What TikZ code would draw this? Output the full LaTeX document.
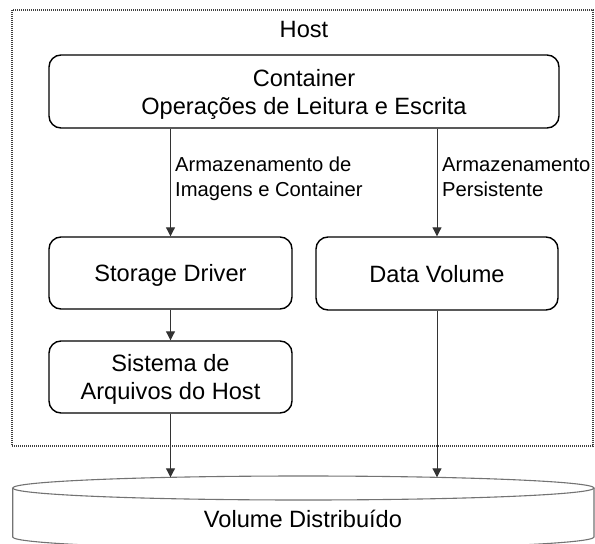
\documentclass[tikz,border=0pt]{standalone}
\usepackage{fontspec}
\setmainfont{Liberation Sans}
\usetikzlibrary{arrows.meta}

\tikzset{
  boxfont/.style={font=\fontsize{23.6pt}{28pt}\selectfont},
  labelfont/.style={font=\fontsize{20.2pt}{25pt}\selectfont},
  procbox/.style={draw=black, line width=1.4pt, rounded corners=12pt,
    inner sep=0pt, align=center, text depth=0pt, boxfont},
  flow/.style={draw=black!80, line width=1pt,
    -{Triangle[width=9pt,length=9pt]}},
  hostframe/.style={draw=black!75, line width=1.3pt,
    dash pattern=on 1pt off 1pt},
  drum/.style={draw=black!55, line width=1.1pt},
  flowlabel/.style={labelfont, align=left, inner sep=0pt, anchor=north west}
}

\begin{document}
\begin{tikzpicture}[x=1pt, y=-1pt]
  \useasboundingbox (0,0) rectangle (595,544);
  \clip (0,0) rectangle (595,544);

  % host boundary
  \draw[hostframe] (12,10) rectangle (593,446);
  \node[boxfont, anchor=base, inner sep=0pt] (host) at (304,37) {Host};

  % processing boxes
  \node[procbox, minimum width=510pt, minimum height=73pt] (cont) at (304,91.5)
    {Container\\Operações de Leitura e Escrita};
  \node[procbox, minimum width=243pt, minimum height=72pt] (sd) at (170.5,273)
    {Storage Driver};
  \node[procbox, minimum width=242pt, minimum height=73pt] (dv) at (437,273.5)
    {Data Volume};
  \node[procbox, minimum width=243pt, minimum height=72pt] (fs) at (170.5,377)
    {Sistema de\\Arquivos do Host};

  % distributed volume drum
  \draw[drum, fill=white] (12.7,488) -- (12.7,537)
    arc[start angle=180, end angle=0, x radius=290.65, y radius=12]
    -- (594,488);
  \draw[drum] (303.35,488) ellipse [x radius=290.65, y radius=12];
  \node[boxfont, anchor=base, inner sep=0pt] (vol) at (303,527)
    {Volume Distribuído};
  \coordinate (volL) at (170.5,477.3);
  \coordinate (volR) at (437,477.3);

  % connectors
  \draw[flow] (cont.south -| sd.north) -- (sd.north);
  \draw[flow] (cont.south -| dv.north) -- (dv.north);
  \draw[flow] (sd.south) -- (fs.north);
  \draw[flow] (fs.south) -- (volL);
  \draw[flow] (dv.south) -- (volR);

  % connector labels
  \node[flowlabel] (lab1) at (175,157) {Armazenamento de\\Imagens e Container};
  \node[flowlabel] (lab2) at (442,157) {Armazenamento\\Persistente};
\end{tikzpicture}
\end{document}
